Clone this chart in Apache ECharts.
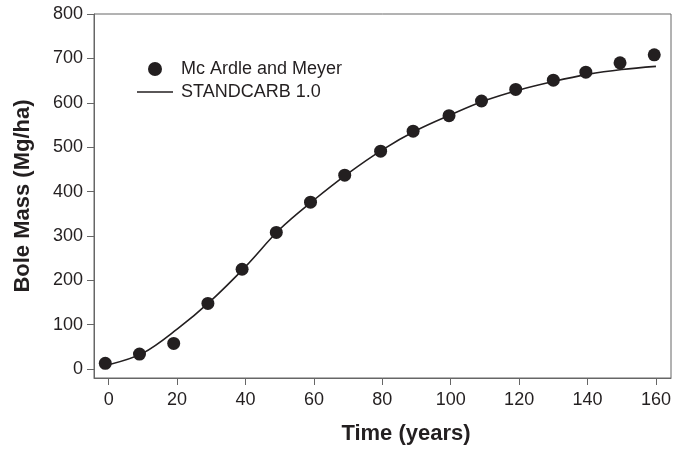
<!DOCTYPE html>
<html>
<head>
<meta charset="utf-8">
<script src="https://cdn.jsdelivr.net/npm/echarts@6/dist/echarts.min.js"></script>
<style>
  html, body { margin: 0; padding: 0; background: #fff; }
  #chart { width: 690px; height: 451px; }
</style>
</head>
<body>
<div id="chart"></div>
<script>
// measured stand (dots)
var obsYears = [-1, 9, 19, 29, 39, 49, 59, 69, 79.5, 89, 99.5, 109, 119, 130, 139.5, 149.5, 159.5];
var obsMass = [13, 34, 58, 148, 225, 308, 376, 437, 491, 536, 571, 604, 630, 651, 669, 690, 708];
// model curve
var modelYears = [0, 10, 20, 30, 40, 50, 60, 70, 80, 90, 100, 110, 120, 130, 140, 150, 160];
var modelMass = [10, 36, 90, 155, 231, 315, 381, 441, 494, 538, 573, 605, 629, 648, 664, 675, 682];
// tick labels
var xTicks = [0, 20, 40, 60, 80, 100, 120, 140, 160];
var yTicks = [0, 100, 200, 300, 400, 500, 600, 700, 800];

var ink = "#231f20";
var frame = "#666";
var font = "'Liberation Sans', Arial, sans-serif";

var chart = echarts.init(document.getElementById("chart"));
var option = {
  animation: false,
  textStyle: { fontFamily: font, color: ink },
  grid: {
    left: 94, right: 19, top: 14, bottom: 73,
    show: true, borderColor: frame, borderWidth: 1
  },
  legend: {
    orient: "vertical",
    left: 132,
    top: 55,
    itemWidth: 36,
    itemHeight: 14,
    itemGap: 5,
    textStyle: { fontSize: 18, color: ink, fontFamily: font, padding: [0, 0, 0, 3] },
    data: [
      { name: "Mc Ardle and Meyer", icon: "circle" },
      { name: "STANDCARB 1.0", icon: "path://M0,0H360V16H0Z" }
    ]
  },
  xAxis: {
    type: "value",
    min: -4.3,
    max: 164.4,
    name: "Time (years)",
    nameLocation: "middle",
    nameGap: 45,
    nameTextStyle: { fontSize: 22, fontWeight: "bold", color: ink, padding: [0, 0, 0, 47] },
    axisLine: { onZero: false, lineStyle: { color: frame } },
    axisTick: { length: 7, customValues: xTicks, lineStyle: { color: frame } },
    axisLabel: { customValues: xTicks, fontSize: 18, color: ink, margin: 13 },
    splitLine: { show: false }
  },
  yAxis: {
    type: "value",
    min: -20,
    max: 800,
    name: "Bole Mass (Mg/ha)",
    nameLocation: "middle",
    nameRotate: 90,
    nameGap: 60,
    nameTextStyle: { fontSize: 22, fontWeight: "bold", color: ink },
    axisLine: { show: true, onZero: false, lineStyle: { color: frame } },
    axisTick: { show: true, length: 7, customValues: yTicks, lineStyle: { color: frame } },
    axisLabel: { customValues: yTicks, fontSize: 18, color: ink, margin: 11 },
    splitLine: { show: false }
  },
  series: [
    {
      name: "STANDCARB 1.0",
      type: "line",
      smooth: 0.35,
      symbol: "none",
      lineStyle: { color: ink, width: 1.6 },
      itemStyle: { color: ink },
      data: modelYears.map(function (x, i) { return [x, modelMass[i]]; }),
      z: 2
    },
    {
      name: "Mc Ardle and Meyer",
      type: "scatter",
      symbol: "circle",
      symbolSize: 13,
      itemStyle: { color: ink, opacity: 1 },
      data: obsYears.map(function (x, i) { return [x, obsMass[i]]; }),
      z: 3
    }
  ]
};
chart.setOption(option);
</script>
</body>
</html>
